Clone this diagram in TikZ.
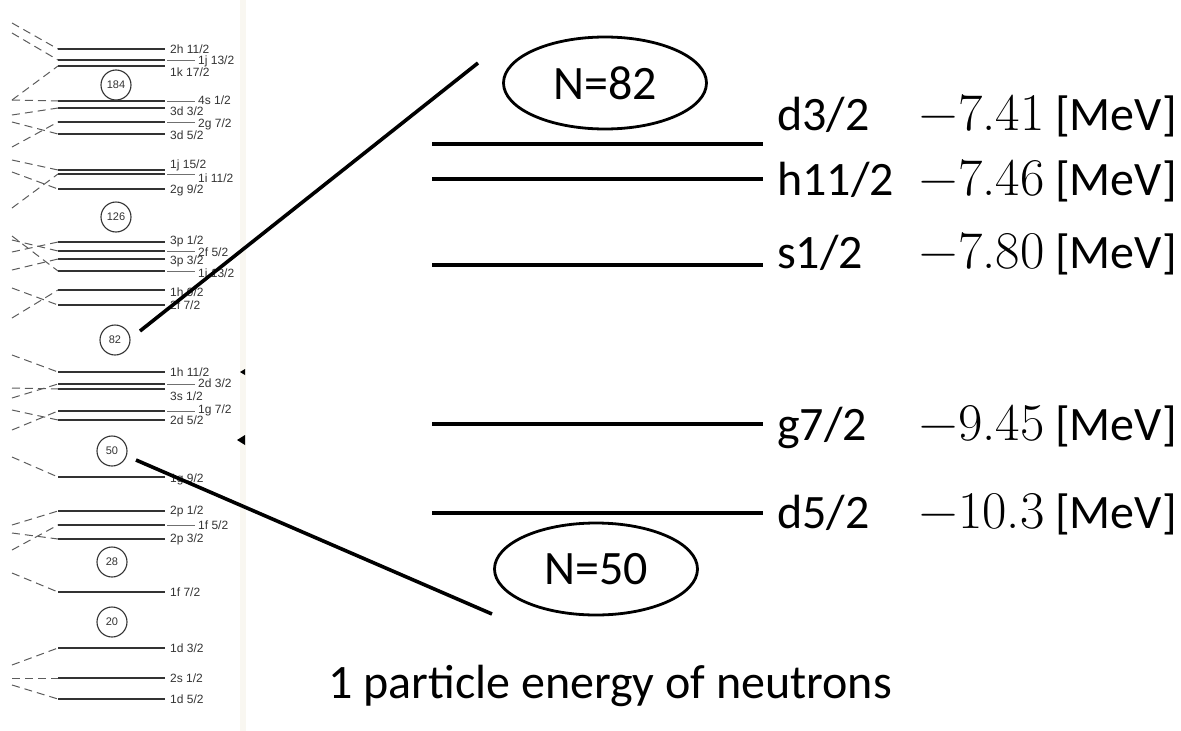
\documentclass[tikz,border=0pt]{standalone}
\usepackage{fontspec}
\setmainfont{Carlito}
\newfontfamily\scanfont{Liberation Sans}
\newcommand\numfont{\fontfamily{lmr}\fontsize{53}{60}\selectfont}
\usetikzlibrary{positioning, shapes.geometric}
\definecolor{scanink}{gray}{0.2}
\definecolor{scanpaper}{RGB}{249,247,241}

\begin{document}
\begin{tikzpicture}[x=1pt, y=-1pt,
  every node/.style={font=\fontsize{48}{56}\selectfont},
  level/.style={line width=3.6pt},
  conn/.style={line width=3.6pt},
  shell/.style={draw, ellipse, line width=2.8pt, minimum width=203pt, minimum height=92pt, inner sep=0pt},
  magic/.style={draw=scanink, circle, line width=1.1pt, minimum size=30pt, inner sep=0pt, text=scanink, font=\scanfont\fontsize{11}{12}\selectfont},
  orb/.style={anchor=west, inner sep=0pt, text=scanink, font=\scanfont\fontsize{12}{13}\selectfont},
  feed/.style={draw=scanink!80, dash pattern=on 8pt off 5pt, line width=1pt},
  split/.style={draw=scanink, line width=2pt},
  lead/.style={draw=scanink!70, line width=0.6pt}
]
  \useasboundingbox (0,0) rectangle (1181,731);
  \fill[scanpaper] (240,0) rectangle (246,731);

  \foreach \ys/\y/\lab/\lx/\ly [count=\i] in {
      23/49/{2h 11/2}/170/49, 33/60/{1j 13/2}/198/61, 100/66/{1k 17/2}/170/72,
      100/101/{4s 1/2}/198/100, 115/108/{3d 3/2}/170/111, 147/122/{2g 7/2}/198/124,
      122/134/{3d 5/2}/170/135, 160/170/{1j 15/2}/170/165, 208/174/{1i 11/2}/198/178,
      172/189/{2g 9/2}/170/190, 252/242/{3p 1/2}/170/241, 240/251/{2f 5/2}/198/252,
      270/259/{3p 3/2}/170/261, 236/271/{1i 13/2}/198/273, 318/290/{1h 9/2}/170/292,
      288/305/{2f 7/2}/170/305, 355/372/{1h 11/2}/170/372, 398/384/{2d 3/2}/198/383,
      388/389/{3s 1/2}/170/396, 430/411/{1g 7/2}/198/410, 410/420/{2d 5/2}/170/420,
      457/477/{1g 9/2}/170/479, 525/511/{2p 1/2}/170/511, 550/525/{1f 5/2}/198/525,
      533/539/{2p 3/2}/170/539, 573/592/{1f 7/2}/170/592, 665/648/{1d 3/2}/170/648,
      678/678/{2s 1/2}/170/678, 685/699/{1d 5/2}/170/699} {
    \draw[feed] (12,\ys) -- (58,\y);
    \draw[split] (58,\y) -- (165,\y);
    \ifnum\lx>180 \draw[lead] (167,\y) -- (195,\y); \fi
    \node[orb] (orb\i) at (\lx,\ly) {\lab};
  }

  \node[magic] (c184) at (116,85) {184};
  \node[magic] (c126) at (116,217) {126};
  \node[magic] (c82) at (115,340) {82};
  \node[magic] (c50) at (112,451) {50};
  \node[magic] (c28) at (112,562) {28};
  \node[magic] (c20) at (112,622) {20};

  \fill[black] (237,440) -- (245,435) -- (245,445) -- cycle;
  \fill[black] (240,372) -- (245,369) -- (245,375) -- cycle;

  \node[shell] (n82) at (605,83) {N=82};
  \node[shell] (n50) at (596,569) {N=50};

  \foreach \y/\lab/\base/\val [count=\i] in {
      144/{d3/2}/130/{−7.41}, 179/{h11/2}/195/{−7.46}, 265/{s1/2}/268/{−7.80},
      424/{g7/2}/440/{−9.45}, 513/{d5/2}/528/{−10.3}} {
    \draw[level] (432,\y) -- (763,\y);
    \node[anchor=base west, inner sep=0pt] (lab\i) at (777,\base) {\lab};
    \node[anchor=base east, inner sep=0pt] (val\i) at (1177,\base) {{\numfont\val} [MeV]};
  }

  \coordinate (from82) at (140,331);
  \coordinate (to82) at (478,63);
  \coordinate (from50) at (136,460);
  \coordinate (to50) at (492,614);
  \draw[conn] (from82) -- (to82);
  \draw[conn] (from50) -- (to50);

  \node[anchor=base west, inner sep=0pt] (caption) at (328,698) {1 particle energy of neutrons};
\end{tikzpicture}
\end{document}
